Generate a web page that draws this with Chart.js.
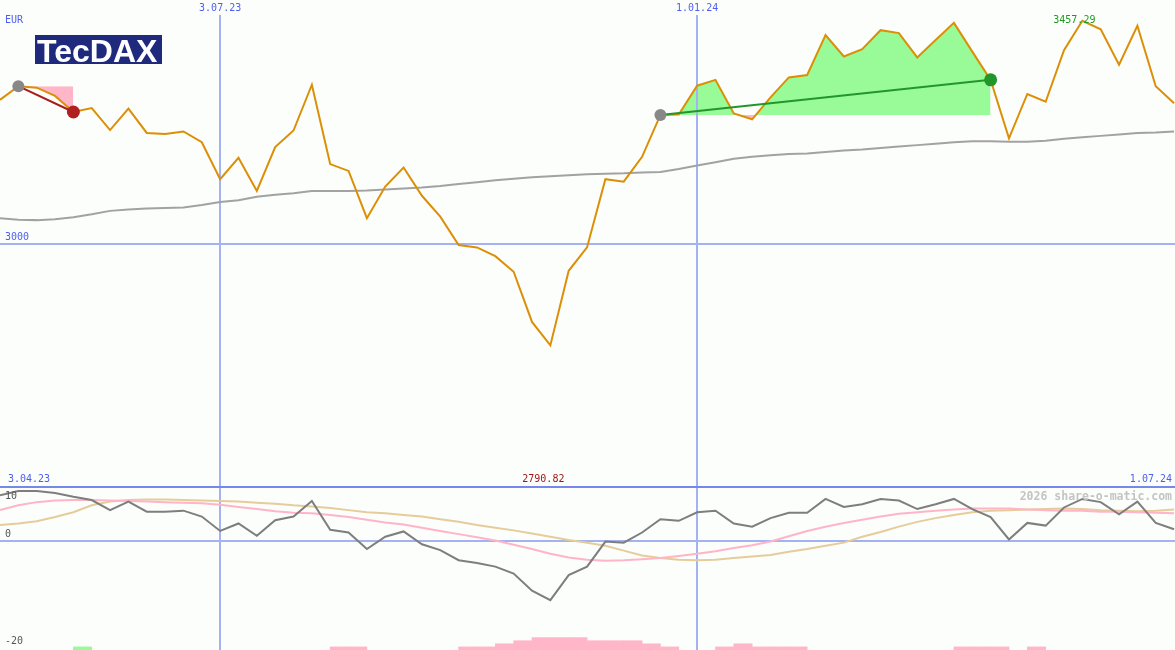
<!DOCTYPE html>
<html>
<head>
<meta charset="utf-8">
<title>TecDAX</title>
<script src="https://cdn.jsdelivr.net/npm/chart.js@4.4.1/dist/chart.umd.min.js"></script>
<style>
  html, body { margin: 0; padding: 0; background: #fcfefb; }
  #wrap { width: 1175px; height: 650px; position: relative; }
</style>
</head>
<body>
<div id="wrap"><canvas id="tecdax"></canvas></div>
<script>
// weekly closes 10.04.23 .. 1.07.24 (index 0..64)
var price = [3295, 3323, 3320, 3303, 3270, 3278, 3233, 3277, 3227, 3225,
  3230, 3208, 3132, 3176, 3108, 3198, 3232, 3326, 3163, 3149,
  3052, 3117, 3156, 3098, 3055, 2997, 2992, 2974, 2942, 2839,
  2790.82, 2944, 2992, 3132, 3127, 3178, 3264, 3265, 3324, 3336,
  3267, 3255, 3300, 3341, 3346, 3428, 3384, 3399, 3438, 3432,
  3382, 3418, 3453, 3394, 3336, 3216, 3307, 3291, 3397, 3457.29,
  3440, 3367, 3447, 3323, 3288];

// long moving average (grey)
var avg = [3052, 3049, 3048, 3050, 3054, 3060, 3067, 3070, 3072, 3073,
  3074, 3079, 3085, 3089, 3096, 3100, 3103, 3108, 3108, 3108,
  3109, 3111, 3113, 3115, 3118, 3122, 3126, 3130, 3133, 3136,
  3138, 3140, 3142, 3143, 3144, 3146, 3147, 3153, 3160, 3167,
  3174, 3178, 3181, 3184, 3185, 3188, 3191, 3193, 3196, 3199,
  3202, 3205, 3208, 3210, 3210, 3209, 3209, 3211, 3215, 3218,
  3221, 3224, 3227, 3228, 3230];

// lower panel
var macd = [8.5, 9.3, 9.3, 8.9, 8.2, 7.6, 5.7, 7.3, 5.4, 5.4,
  5.6, 4.5, 1.8, 3.2, 0.9, 3.8, 4.5, 7.4, 2.0, 1.5,
  -1.6, 0.7, 1.7, -0.7, -1.8, -3.7, -4.2, -4.9, -6.2, -9.4,
  -11.2, -6.5, -4.9, -0.2, -0.4, 1.5, 4.0, 3.7, 5.3, 5.6,
  3.2, 2.6, 4.2, 5.2, 5.2, 7.8, 6.3, 6.8, 7.8, 7.5,
  5.9, 6.8, 7.8, 5.9, 4.4, 0.2, 3.3, 2.8, 6.2, 7.8,
  7.2, 4.9, 7.3, 3.3, 2.1];
var fastLine = [5.7, 6.6, 7.2, 7.5, 7.6, 7.6, 7.5, 7.4, 7.3, 7.2,
  7.1, 7.0, 6.7, 6.3, 5.9, 5.5, 5.2, 5.1, 4.8, 4.4,
  3.9, 3.4, 3.0, 2.4, 1.8, 1.2, 0.6, 0.0, -0.8, -1.6,
  -2.5, -3.2, -3.6, -3.8, -3.7, -3.5, -3.3, -2.9, -2.5, -2.0,
  -1.4, -0.9, -0.2, 0.8, 1.8, 2.6, 3.3, 3.9, 4.5, 5.0,
  5.3, 5.6, 5.8, 6.0, 6.0, 6.0, 5.8, 5.7, 5.6, 5.6,
  5.4, 5.4, 5.3, 5.2, 5.1];
var slowLine = [2.9, 3.2, 3.6, 4.4, 5.3, 6.6, 7.3, 7.6, 7.7, 7.7,
  7.6, 7.5, 7.4, 7.3, 7.1, 6.9, 6.6, 6.4, 6.1, 5.7,
  5.3, 5.1, 4.8, 4.5, 4.0, 3.5, 2.9, 2.4, 1.9, 1.3,
  0.7, 0.1, -0.4, -1.0, -1.9, -2.8, -3.3, -3.6, -3.7, -3.6,
  -3.3, -3.0, -2.7, -2.1, -1.6, -1.0, -0.4, 0.7, 1.6, 2.6,
  3.5, 4.2, 4.8, 5.3, 5.6, 5.7, 5.8, 5.9, 6.0, 5.9,
  5.7, 5.6, 5.5, 5.6, 5.8];
// signal blocks at the bottom, one per week (+ green, - pink)
var signal = [0, 0, 0, 0, 1, 0, 0, 0, 0, 0,
  0, 0, 0, 0, 0, 0, 0, 0, -1, -1,
  0, 0, 0, 0, 0, -1, -1, -2, -3, -4,
  -4, -4, -3, -3, -3, -2, -1, 0, 0, -1,
  -2, -1, -1, -1, 0, 0, 0, 0, 0, 0,
  0, 0, -1, -1, -1, 0, -1, 0, 0, 0,
  0, 0, 0, 0];

var tickIdx = [12, 38];
var tickText = ['3.07.23', '1.01.24'];
var startText = '3.04.23', endText = '1.07.24';
var priceLevels = [3000];
var macdLevels = [10, 0, -20];

// trend segments (week indices)
var downFrom = 1, downTo = 4;
var upFrom = 36, upTo = 54;

var GREEN_FILL = '#98fb98', PINK_FILL = '#ffb6c8';
var GRID = '#a4b2f2', BLUE_TXT = '#4d5ff0';
var MONO = '"DejaVu Sans Mono", monospace';

function pts(arr, from, to) {
  var out = [];
  for (var i = from; i <= to; i++) out.push({ x: i, y: arr[i] });
  return out;
}

var hiIdx = price.indexOf(Math.max.apply(null, price));
var loIdx = price.indexOf(Math.min.apply(null, price));

var somPanel = {
  id: 'somPanel',
  beforeDraw: function (chart) {
    var c = chart.ctx;
    c.save();
    c.fillStyle = '#fcfefb';
    c.fillRect(0, 0, chart.width, chart.height);
    c.restore();
  },
  beforeDatasetsDraw: function (chart) {
    var c = chart.ctx, s = chart.scales;
    c.save();
    c.strokeStyle = GRID;
    c.lineWidth = 2;
    tickIdx.forEach(function (t) {
      var x = Math.round(s.x.getPixelForValue(t));
      c.beginPath(); c.moveTo(x, 15); c.lineTo(x, chart.height); c.stroke();
    });
    priceLevels.forEach(function (v) {
      var y = Math.round(s.y.getPixelForValue(v));
      c.beginPath(); c.moveTo(0, y); c.lineTo(chart.width, y); c.stroke();
    });
    var y0 = Math.round(s.ym.getPixelForValue(0));
    c.beginPath(); c.moveTo(0, y0); c.lineTo(chart.width, y0); c.stroke();
    // panel border
    var yb = Math.round(s.y.getPixelForValue(2500));
    c.strokeStyle = '#7787ec';
    c.beginPath(); c.moveTo(0, yb); c.lineTo(chart.width, yb); c.stroke();
    c.restore();
  },
  afterDatasetsDraw: function (chart) {
    var c = chart.ctx, s = chart.scales;
    c.save();
    c.font = '10px ' + MONO;
    c.textBaseline = 'middle';
    c.fillStyle = BLUE_TXT;
    c.textAlign = 'center';
    tickIdx.forEach(function (t, k) {
      c.fillText(tickText[k], s.x.getPixelForValue(t), 8);
    });
    c.textAlign = 'left';
    c.fillText('EUR', 5, 20);
    priceLevels.forEach(function (v) {
      c.fillText(String(v), 5, s.y.getPixelForValue(v) - 6);
    });
    var yb = s.y.getPixelForValue(2500);
    c.fillText(startText, 8, yb - 8);
    c.textAlign = 'right';
    c.fillText(endText, 1172, yb - 8);

    c.textAlign = 'left';
    c.fillStyle = '#555555';
    macdLevels.forEach(function (v) {
      var y = Math.max(s.ym.getPixelForValue(v) - 6, yb + 9);
      c.fillText(String(v), 5, y);
    });

    c.textAlign = 'center';
    c.fillStyle = '#1f9a1f';
    c.fillText(price[hiIdx].toFixed(2), s.x.getPixelForValue(hiIdx) - 8, s.y.getPixelForValue(price[hiIdx]));
    c.fillStyle = '#a01818';
    c.fillText(price[loIdx].toFixed(2), s.x.getPixelForValue(loIdx) - 7, yb - 8);

    c.textAlign = 'right';
    c.fillStyle = '#c4c4c4';
    c.font = 'bold 11.5px ' + MONO;
    c.fillText('2026 share-o-matic.com', 1172, yb + 10);

    // logo
    c.fillStyle = '#1f2a7c';
    c.fillRect(35, 35, 127, 29);
    c.fillStyle = '#ffffff';
    c.font = 'bold 32px "Liberation Sans", Arial, sans-serif';
    c.textAlign = 'left';
    c.textBaseline = 'alphabetic';
    c.fillText('TecDAX', 37, 62);
    c.restore();
  }
};

new Chart(document.getElementById('tecdax'), {
  type: 'line',
  data: {
    datasets: [
      {
        // pink area of the falling segment
        data: pts(price, downFrom, downTo),
        borderWidth: 0, pointRadius: 0,
        fill: { target: { value: price[downFrom] }, above: 'rgba(0,0,0,0)', below: PINK_FILL },
        order: 10
      },
      {
        // green area of the rising segment
        data: pts(price, upFrom, upTo),
        borderWidth: 0, pointRadius: 0,
        fill: { target: { value: price[upFrom] }, above: GREEN_FILL, below: PINK_FILL },
        order: 10
      },
      {
        type: 'bar',
        data: signal.map(function (v, i) { return { x: i + 0.5, y: v === 0 ? null : Math.abs(v) }; }),
        backgroundColor: signal.map(function (v) { return v > 0 ? GREEN_FILL : PINK_FILL; }),
        borderWidth: 0,
        yAxisID: 'yh',
        barPercentage: 1, categoryPercentage: 1,
        order: 9
      },
      { data: pts(avg, 0, 64), borderColor: '#a2a2a2', borderWidth: 2, pointRadius: 0, order: 4 },
      { data: pts(slowLine, 0, 64), yAxisID: 'ym', borderColor: '#e6cc9a', borderWidth: 2, pointRadius: 0, order: 4 },
      { data: pts(fastLine, 0, 64), yAxisID: 'ym', borderColor: '#ffb4c8', borderWidth: 2, pointRadius: 0, order: 3 },
      { data: pts(macd, 0, 64), yAxisID: 'ym', borderColor: '#7e7e7e', borderWidth: 2, pointRadius: 0, order: 2 },
      { data: pts(price, 0, 64), borderColor: '#dc8f06', borderWidth: 2, pointRadius: 0, order: 2 },
      {
        data: [{ x: downFrom, y: price[downFrom] }, { x: downTo, y: price[downTo] }],
        borderColor: '#a81c1c', borderWidth: 2,
        pointRadius: [6, 6.5], pointBackgroundColor: ['#888888', '#b02020'], pointBorderWidth: 0,
        order: 1
      },
      {
        data: [{ x: upFrom, y: price[upFrom] }, { x: upTo, y: price[upTo] }],
        borderColor: '#22962a', borderWidth: 2,
        pointRadius: [6, 6.5], pointBackgroundColor: ['#888888', '#22962a'], pointBorderWidth: 0,
        order: 1
      }
    ]
  },
  options: {
    responsive: true,
    maintainAspectRatio: false,
    animation: false,
    layout: { padding: 0, autoPadding: false },
    elements: { line: { tension: 0, fill: false } },
    plugins: {
      legend: { display: false },
      tooltip: { enabled: false },
      filler: { drawTime: 'beforeDatasetsDraw' }
    },
    scales: {
      x: { type: 'linear', min: 0, max: 64.05, offset: false, display: false },
      y: { min: 2165.3, max: 3500, display: false },
      ym: { min: -20.54, max: 101.4, display: false },
      yh: { min: 0, max: 209.7, display: false }
    }
  },
  plugins: [somPanel]
});
</script>
</body>
</html>
